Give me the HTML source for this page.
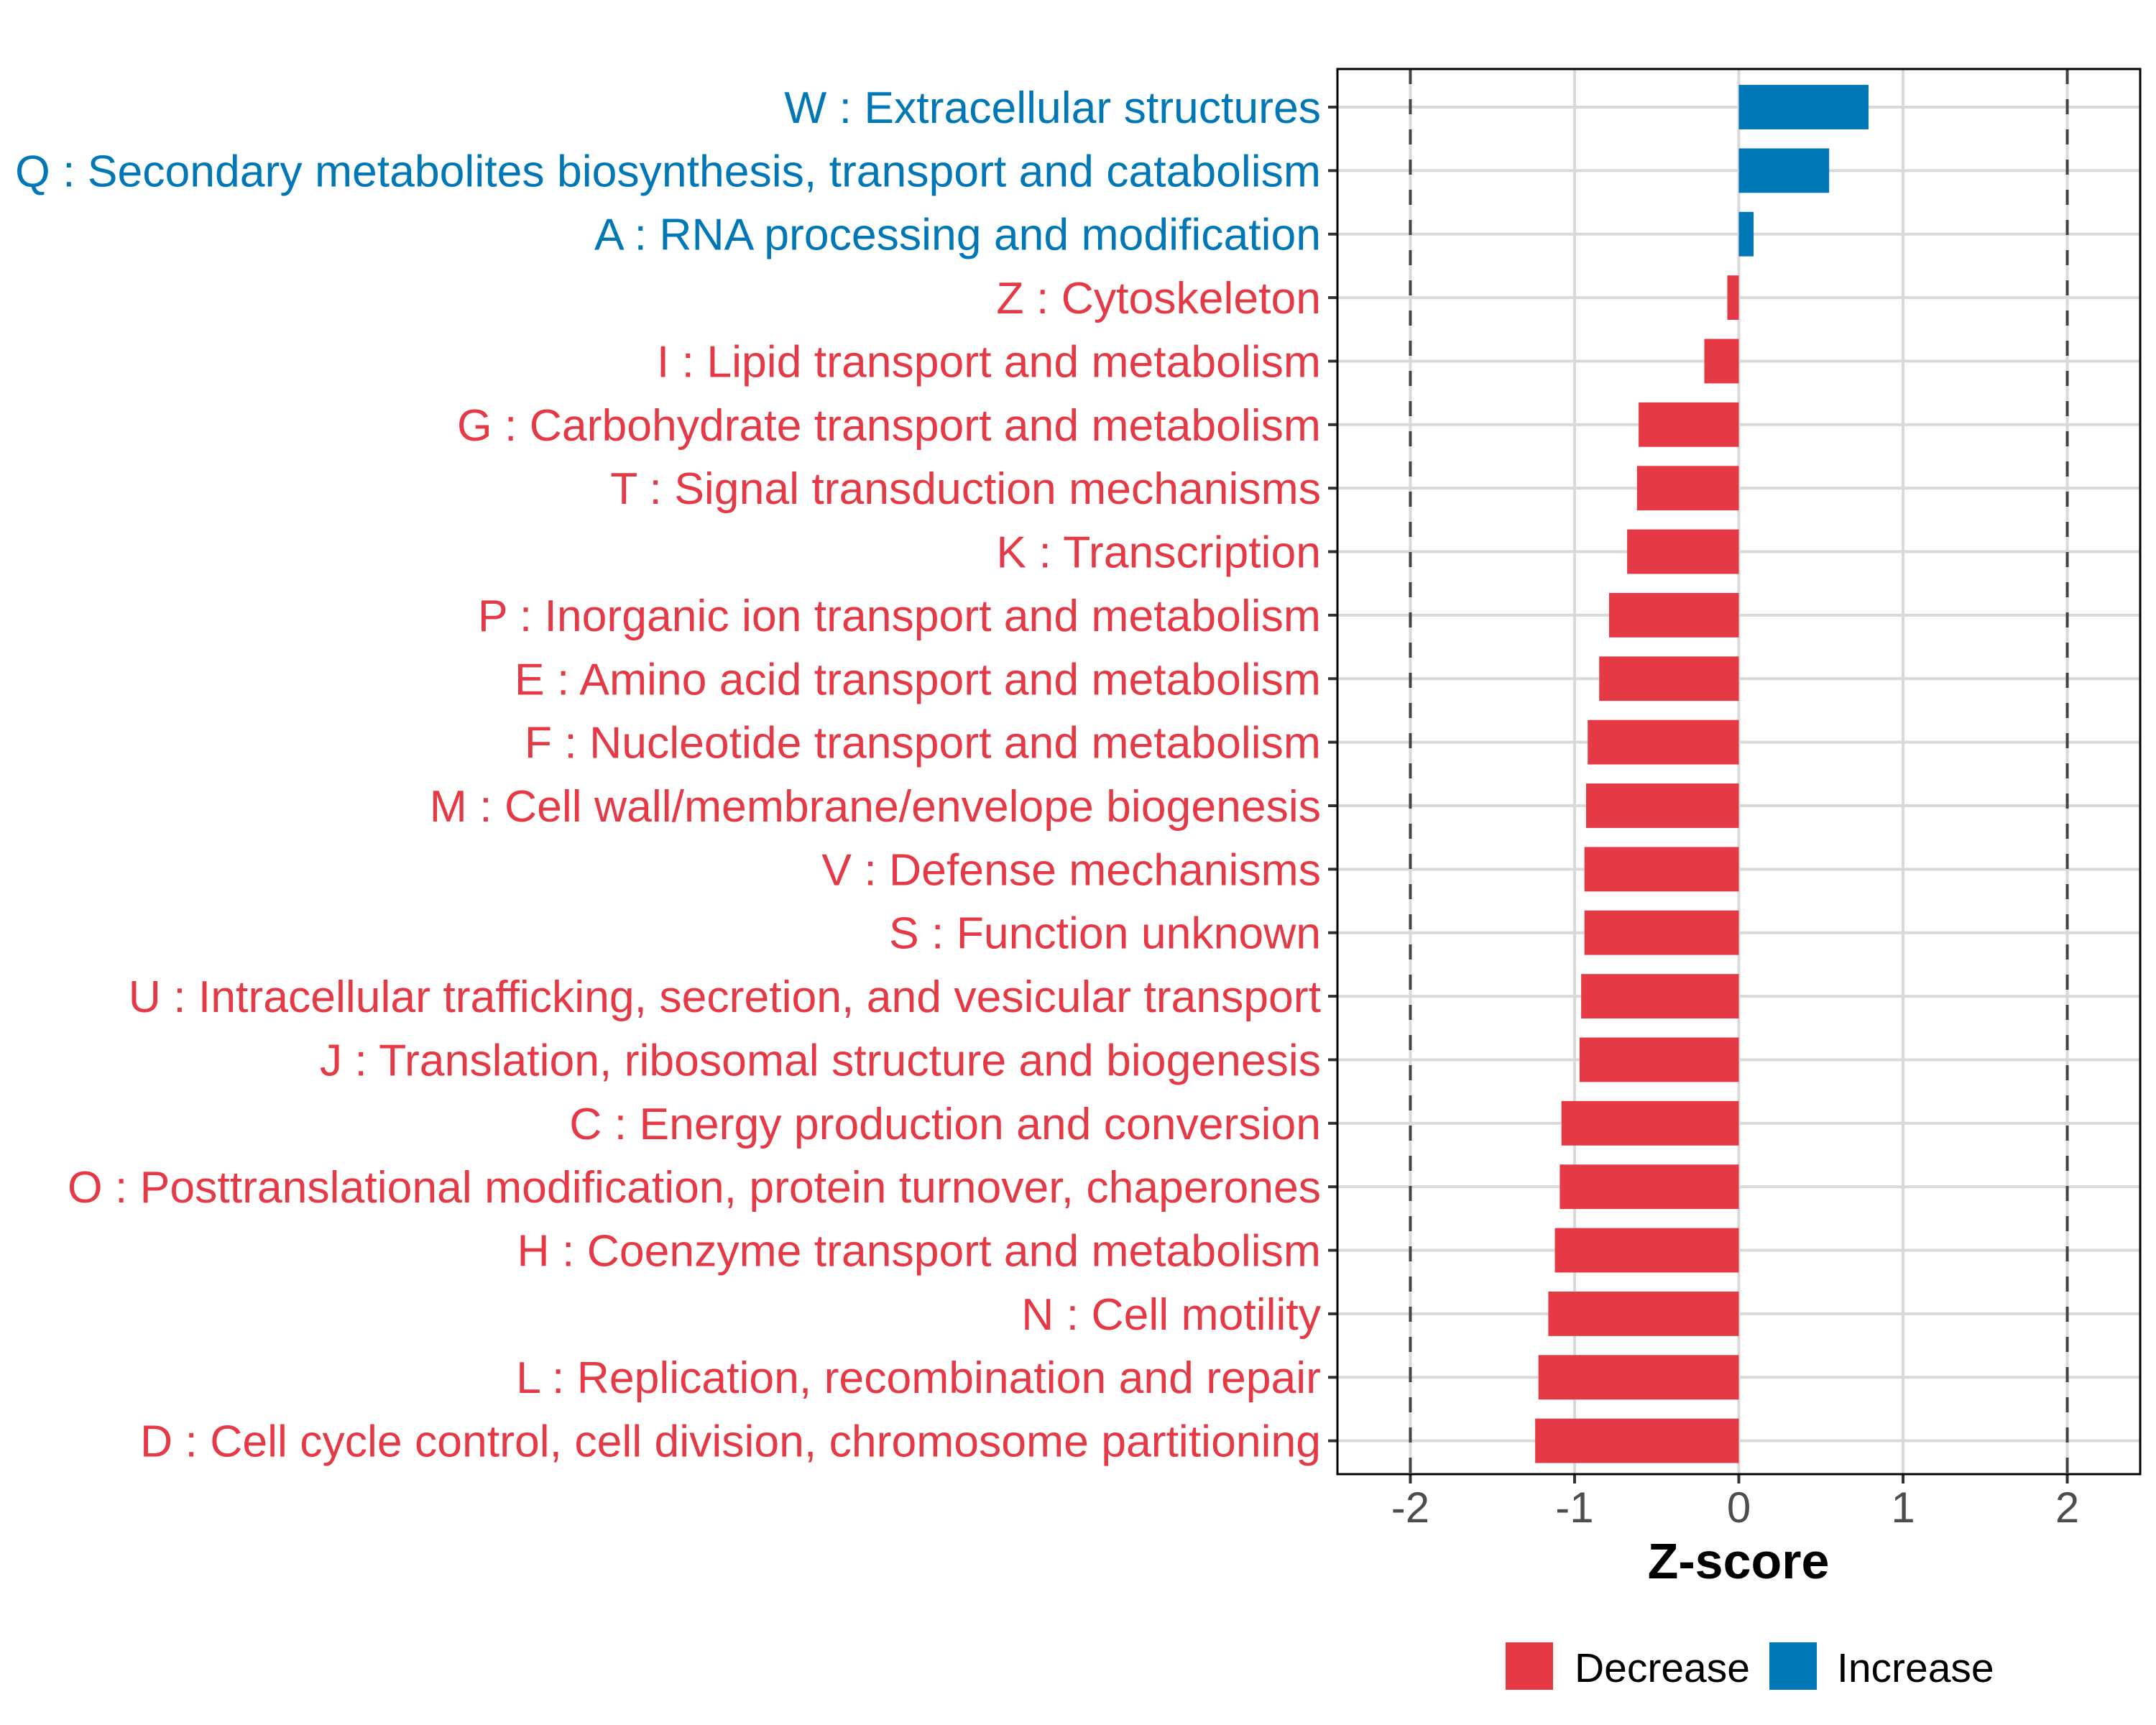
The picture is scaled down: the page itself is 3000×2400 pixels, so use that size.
<!DOCTYPE html>
<html><head><meta charset="utf-8"><style>
html,body{margin:0;padding:0;background:#fff;}
svg{display:block;font-family:"Liberation Sans",Arial,sans-serif;}
</style></head><body>
<svg id="chart" width="3000" height="2400" viewBox="0 0 3000 2400" xmlns="http://www.w3.org/2000/svg">
<rect width="3000" height="2400" fill="#fff"/>
<g id="grid"></g>
<g id="bars"></g>
<g id="ylabels"></g>
<g id="xaxis"></g>
<rect x="1861" y="96" width="1117" height="1955" fill="none" stroke="#000" stroke-width="3"/>
<text x="2419" y="2196" font-size="70" font-weight="bold" text-anchor="middle" fill="#000">Z-score</text>
<g>
<rect x="2095" y="2285" width="66" height="66" fill="#E63946"/>
<text x="2191" y="2340" font-size="57" fill="#000">Decrease</text>
<rect x="2462" y="2285" width="66" height="66" fill="#0077B6"/>
<text x="2556" y="2340" font-size="57" fill="#000">Increase</text>
</g>
</svg>
<script>
const categories = [
"W : Extracellular structures",
"Q : Secondary metabolites biosynthesis, transport and catabolism",
"A : RNA processing and modification",
"Z : Cytoskeleton",
"I : Lipid transport and metabolism",
"G : Carbohydrate transport and metabolism",
"T : Signal transduction mechanisms",
"K : Transcription",
"P : Inorganic ion transport and metabolism",
"E : Amino acid transport and metabolism",
"F : Nucleotide transport and metabolism",
"M : Cell wall/membrane/envelope biogenesis",
"V : Defense mechanisms",
"S : Function unknown",
"U : Intracellular trafficking, secretion, and vesicular transport",
"J : Translation, ribosomal structure and biogenesis",
"C : Energy production and conversion",
"O : Posttranslational modification, protein turnover, chaperones",
"H : Coenzyme transport and metabolism",
"N : Cell motility",
"L : Replication, recombination and repair",
"D : Cell cycle control, cell division, chromosome partitioning"
];
const zscores = [0.79,0.55,0.09,-0.07,-0.21,-0.61,-0.62,-0.68,-0.79,-0.85,-0.92,-0.93,-0.94,-0.94,-0.96,-0.97,-1.08,-1.09,-1.12,-1.16,-1.22,-1.24];
const xTicks = [-2,-1,0,1,2];
const xTickLabels = ["-2","-1","0","1","2"];
const thresholds = [-2,2];

const NS="http://www.w3.org/2000/svg";
const PL=1861,PR=2978,PT=96,PB=2051;
const XMIN=-2.444,XMAX=2.444;
function xs(v){return PL+(v-XMIN)/(XMAX-XMIN)*(PR-PL);}
const step=(PB-PT)/(categories.length+0.125);
function ys(i){return PT+step*(i+0.6);}
function mk(tag,attrs,parent){const e=document.createElementNS(NS,tag);for(const k in attrs)e.setAttribute(k,attrs[k]);parent.appendChild(e);return e;}
const grid=document.getElementById('grid'),bars=document.getElementById('bars'),yl=document.getElementById('ylabels'),xa=document.getElementById('xaxis');
categories.forEach((c,i)=>{
  const l=mk('line',{x1:PL,x2:PR,y1:ys(i),y2:ys(i),stroke:'#d9d9d9','stroke-width':4},grid);
  
  
});
xTicks.forEach(v=>{
  const l=mk('line',{x1:xs(v),x2:xs(v),y1:PT,y2:PB,stroke:'#d9d9d9','stroke-width':4},grid);
  
  
});
thresholds.forEach(v=>{
  const l=mk('line',{x1:xs(v),x2:xs(v),y1:PT,y2:PB,stroke:'#444','stroke-width':4,'stroke-dasharray':'21 21'},grid);
  
  
});
categories.forEach((c,i)=>{
  const v=zscores[i];
  const col=v>=0?'#0077B6':'#E63946';
  const h=step*0.7;
  const r=mk('rect',{x:Math.min(xs(0),xs(v)),y:ys(i)-h/2,width:Math.abs(xs(v)-xs(0)),height:h,fill:col},bars);
  
  
  const t=mk('text',{x:1838,y:ys(i)+22,'text-anchor':'end','font-size':62.5,fill:col},yl);
  t.textContent=c;
  
  
  const tk=mk('line',{x1:PL-13,x2:PL,y1:ys(i),y2:ys(i),stroke:'#333','stroke-width':4},yl);
  
  
});
xTicks.forEach((v,i)=>{
  const tk=mk('line',{x1:xs(v),x2:xs(v),y1:PB,y2:PB+13,stroke:'#333','stroke-width':4},xa);
  
  
  const t=mk('text',{x:xs(v),y:2118,'text-anchor':'middle','font-size':60,fill:'#4d4d4d'},xa);
  t.textContent=xTickLabels[i];
  
  
});
</script>
</body></html>
